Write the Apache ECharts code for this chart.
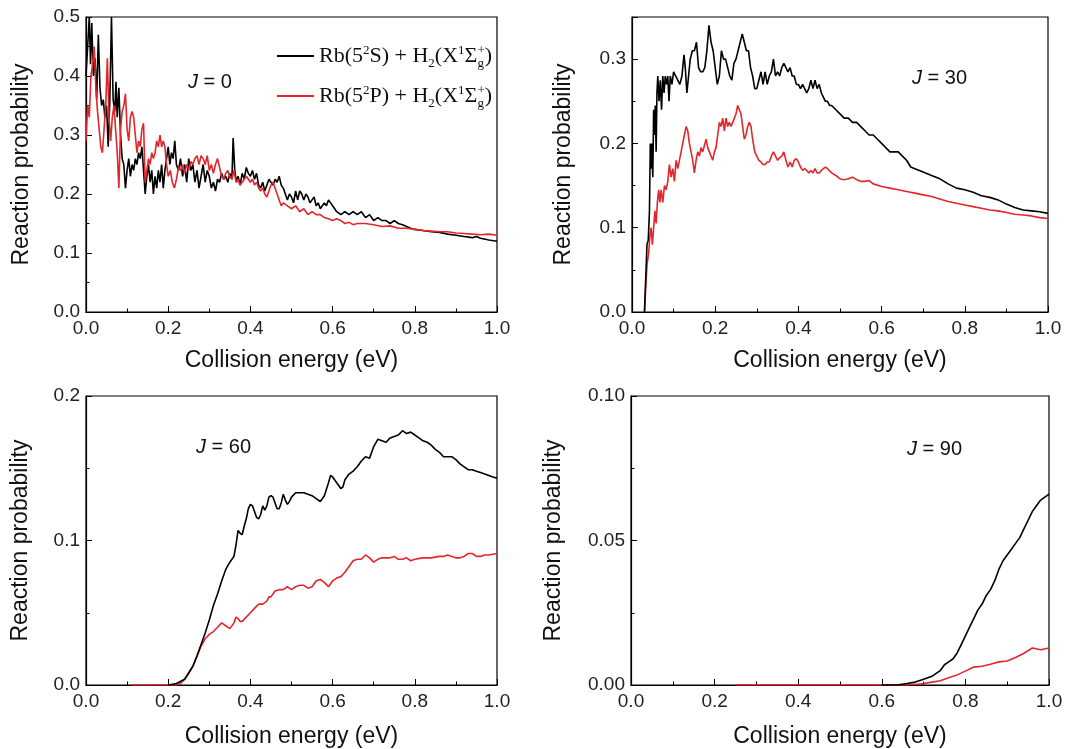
<!DOCTYPE html>
<html>
<head>
<meta charset="utf-8">
<script src="https://cdn.jsdelivr.net/npm/echarts@6/dist/echarts.min.js"></script>
<style>
  html, body { margin: 0; padding: 0; background: #fff; }
  #chart { width: 1072px; height: 749px; }
</style>
</head>
<body>
<div id="chart"></div>
<script>
// Reaction probability vs collision energy, four J panels
const nameS = 'Rb(5S) + H2';
const nameP = 'Rb(5P) + H2';
const xTicks = [0, 0.2, 0.4, 0.6, 0.8, 1.0];

// J = 0
const j0SEnergy = [0.000,0.004,0.008,0.011,0.014,0.018,0.022,0.026,0.030,0.034,0.038,0.042,0.046,0.050,0.054,0.058,0.062,0.066,0.070,0.073,0.076,0.080,0.084,0.088,0.092,0.096,0.100,0.104,0.108,0.112,0.116,0.120,0.124,0.128,0.132,0.136,0.140,0.144,0.148,0.152,0.156,0.160,0.164,0.168,0.172,0.176,0.180,0.184,0.188,0.192,0.196,0.200,0.204,0.208,0.212,0.216,0.220,0.225,0.230,0.235,0.240,0.245,0.250,0.255,0.260,0.265,0.270,0.275,0.280,0.285,0.290,0.295,0.300,0.305,0.310,0.315,0.320,0.325,0.330,0.335,0.340,0.345,0.350,0.355,0.358,0.362,0.366,0.370,0.375,0.380,0.385,0.390,0.395,0.400,0.405,0.410,0.415,0.420,0.425,0.430,0.435,0.440,0.445,0.450,0.455,0.460,0.465,0.470,0.475,0.480,0.485,0.490,0.495,0.500,0.505,0.510,0.515,0.520,0.525,0.530,0.535,0.540,0.545,0.550,0.555,0.560,0.565,0.570,0.575,0.580,0.585,0.590,0.595,0.600,0.610,0.620,0.630,0.640,0.650,0.660,0.670,0.680,0.690,0.700,0.710,0.720,0.730,0.740,0.750,0.760,0.770,0.780,0.790,0.800,0.820,0.840,0.860,0.880,0.900,0.920,0.940,0.950,0.960,0.980,1.000];
const j0SProb = [0.40,0.45,0.50,0.42,0.49,0.40,0.43,0.36,0.47,0.38,0.35,0.36,0.33,0.35,0.28,0.36,0.50,0.36,0.34,0.39,0.33,0.38,0.30,0.26,0.25,0.21,0.24,0.26,0.23,0.25,0.24,0.26,0.25,0.27,0.26,0.28,0.24,0.20,0.23,0.25,0.22,0.24,0.20,0.23,0.21,0.24,0.22,0.25,0.21,0.24,0.26,0.28,0.25,0.27,0.26,0.29,0.25,0.24,0.26,0.23,0.25,0.22,0.26,0.24,0.25,0.22,0.24,0.21,0.23,0.25,0.22,0.24,0.23,0.21,0.22,0.205,0.225,0.22,0.235,0.225,0.23,0.22,0.235,0.225,0.295,0.24,0.22,0.23,0.215,0.235,0.225,0.245,0.235,0.23,0.24,0.225,0.235,0.215,0.21,0.22,0.205,0.215,0.225,0.22,0.215,0.225,0.22,0.23,0.215,0.21,0.20,0.19,0.20,0.195,0.185,0.205,0.19,0.205,0.20,0.19,0.20,0.195,0.185,0.19,0.195,0.18,0.185,0.175,0.18,0.185,0.18,0.19,0.185,0.18,0.17,0.165,0.17,0.165,0.17,0.165,0.17,0.16,0.165,0.155,0.16,0.155,0.155,0.15,0.155,0.15,0.148,0.145,0.142,0.14,0.138,0.136,0.135,0.132,0.13,0.128,0.126,0.128,0.125,0.122,0.12];
const j0PEnergy = [0.000,0.004,0.008,0.012,0.016,0.020,0.024,0.028,0.032,0.036,0.040,0.044,0.048,0.052,0.056,0.060,0.064,0.068,0.072,0.076,0.080,0.084,0.088,0.092,0.096,0.100,0.104,0.108,0.112,0.116,0.120,0.124,0.128,0.132,0.136,0.140,0.144,0.148,0.152,0.156,0.160,0.164,0.168,0.172,0.176,0.180,0.184,0.188,0.192,0.196,0.200,0.205,0.210,0.215,0.220,0.225,0.230,0.235,0.240,0.245,0.250,0.255,0.260,0.265,0.270,0.275,0.280,0.285,0.290,0.295,0.300,0.305,0.310,0.315,0.320,0.325,0.330,0.335,0.340,0.345,0.350,0.355,0.360,0.365,0.370,0.375,0.380,0.390,0.400,0.405,0.410,0.415,0.420,0.425,0.430,0.435,0.440,0.445,0.450,0.455,0.460,0.465,0.470,0.475,0.480,0.490,0.500,0.510,0.520,0.530,0.540,0.550,0.560,0.570,0.580,0.590,0.600,0.610,0.620,0.630,0.640,0.650,0.660,0.680,0.700,0.720,0.740,0.760,0.780,0.800,0.820,0.840,0.860,0.880,0.900,0.920,0.940,0.960,0.980,1.000];
const j0PProb = [0.29,0.35,0.33,0.40,0.42,0.45,0.38,0.34,0.31,0.28,0.27,0.31,0.35,0.43,0.33,0.29,0.33,0.35,0.31,0.27,0.21,0.31,0.34,0.35,0.37,0.31,0.29,0.33,0.34,0.33,0.30,0.27,0.29,0.28,0.31,0.32,0.22,0.24,0.26,0.25,0.27,0.26,0.27,0.29,0.28,0.30,0.28,0.29,0.28,0.25,0.23,0.24,0.22,0.21,0.225,0.245,0.24,0.25,0.235,0.25,0.24,0.255,0.25,0.26,0.265,0.25,0.265,0.26,0.25,0.265,0.24,0.25,0.235,0.25,0.26,0.245,0.23,0.225,0.235,0.24,0.23,0.225,0.24,0.22,0.225,0.215,0.22,0.23,0.22,0.225,0.215,0.22,0.21,0.205,0.21,0.20,0.195,0.205,0.215,0.22,0.21,0.20,0.19,0.18,0.185,0.18,0.175,0.18,0.17,0.175,0.165,0.17,0.165,0.165,0.16,0.158,0.155,0.158,0.155,0.15,0.152,0.148,0.15,0.15,0.148,0.145,0.146,0.142,0.142,0.14,0.138,0.137,0.136,0.136,0.134,0.133,0.132,0.131,0.132,0.13];

// J = 30
const j30SEnergy = [0.030,0.033,0.036,0.039,0.042,0.044,0.046,0.048,0.050,0.052,0.054,0.056,0.058,0.060,0.062,0.065,0.068,0.071,0.074,0.077,0.080,0.083,0.086,0.089,0.092,0.096,0.100,0.105,0.110,0.115,0.120,0.125,0.128,0.132,0.136,0.140,0.145,0.150,0.155,0.160,0.165,0.170,0.175,0.180,0.185,0.190,0.195,0.200,0.205,0.210,0.215,0.220,0.225,0.230,0.235,0.240,0.245,0.250,0.255,0.260,0.265,0.270,0.275,0.280,0.285,0.290,0.295,0.300,0.305,0.310,0.315,0.320,0.325,0.330,0.335,0.340,0.345,0.350,0.355,0.360,0.365,0.370,0.375,0.380,0.385,0.390,0.395,0.400,0.405,0.410,0.415,0.420,0.425,0.430,0.435,0.440,0.445,0.450,0.455,0.460,0.465,0.470,0.475,0.480,0.490,0.500,0.510,0.520,0.530,0.540,0.550,0.560,0.570,0.580,0.590,0.600,0.610,0.620,0.630,0.640,0.650,0.660,0.670,0.680,0.700,0.720,0.740,0.760,0.780,0.800,0.820,0.840,0.860,0.880,0.900,0.920,0.940,0.960,0.980,1.000];
const j30SProb = [0.0,0.04,0.08,0.085,0.12,0.20,0.17,0.20,0.16,0.24,0.21,0.245,0.19,0.26,0.28,0.25,0.275,0.24,0.28,0.26,0.28,0.27,0.28,0.25,0.28,0.27,0.285,0.28,0.275,0.27,0.28,0.305,0.29,0.26,0.28,0.30,0.31,0.31,0.32,0.29,0.285,0.285,0.29,0.31,0.34,0.32,0.31,0.29,0.27,0.28,0.31,0.30,0.30,0.29,0.28,0.275,0.295,0.30,0.31,0.32,0.33,0.32,0.31,0.31,0.29,0.28,0.265,0.265,0.275,0.285,0.27,0.285,0.27,0.28,0.285,0.30,0.28,0.285,0.28,0.29,0.295,0.29,0.285,0.29,0.28,0.28,0.27,0.27,0.265,0.27,0.265,0.26,0.265,0.275,0.265,0.275,0.265,0.27,0.26,0.255,0.25,0.25,0.245,0.245,0.24,0.235,0.23,0.23,0.225,0.225,0.22,0.215,0.21,0.21,0.205,0.20,0.195,0.19,0.19,0.19,0.185,0.18,0.172,0.17,0.166,0.162,0.158,0.152,0.147,0.145,0.142,0.138,0.136,0.133,0.128,0.124,0.121,0.120,0.119,0.117];
const j30PEnergy = [0.030,0.033,0.036,0.040,0.043,0.046,0.049,0.052,0.055,0.058,0.061,0.064,0.067,0.070,0.074,0.078,0.082,0.086,0.090,0.094,0.098,0.102,0.106,0.110,0.114,0.118,0.122,0.126,0.130,0.134,0.138,0.142,0.146,0.150,0.154,0.158,0.162,0.166,0.170,0.174,0.178,0.182,0.186,0.190,0.194,0.198,0.202,0.206,0.210,0.214,0.218,0.222,0.226,0.230,0.234,0.238,0.242,0.246,0.250,0.254,0.258,0.262,0.266,0.270,0.274,0.278,0.282,0.286,0.290,0.295,0.300,0.305,0.310,0.315,0.320,0.325,0.330,0.335,0.340,0.345,0.350,0.355,0.360,0.365,0.370,0.375,0.380,0.385,0.390,0.395,0.400,0.405,0.410,0.415,0.420,0.425,0.430,0.435,0.440,0.445,0.450,0.455,0.460,0.465,0.470,0.480,0.490,0.500,0.510,0.520,0.530,0.540,0.550,0.560,0.570,0.580,0.600,0.620,0.640,0.660,0.680,0.700,0.720,0.740,0.760,0.780,0.800,0.820,0.840,0.860,0.880,0.900,0.920,0.940,0.960,0.980,1.000];
const j30PProb = [0.0,0.03,0.055,0.07,0.09,0.10,0.08,0.10,0.12,0.105,0.13,0.145,0.13,0.145,0.13,0.15,0.145,0.155,0.175,0.16,0.17,0.155,0.18,0.17,0.18,0.19,0.20,0.21,0.22,0.215,0.20,0.19,0.18,0.165,0.18,0.19,0.185,0.195,0.19,0.19,0.205,0.195,0.19,0.185,0.18,0.19,0.195,0.21,0.225,0.22,0.23,0.215,0.23,0.22,0.225,0.22,0.225,0.23,0.235,0.245,0.24,0.235,0.22,0.205,0.21,0.22,0.225,0.22,0.205,0.19,0.185,0.18,0.178,0.175,0.175,0.178,0.178,0.185,0.19,0.185,0.18,0.183,0.185,0.19,0.18,0.172,0.178,0.172,0.18,0.182,0.178,0.172,0.168,0.17,0.168,0.165,0.168,0.165,0.17,0.165,0.165,0.168,0.17,0.172,0.17,0.165,0.162,0.158,0.157,0.158,0.16,0.157,0.155,0.155,0.156,0.152,0.149,0.147,0.145,0.143,0.141,0.139,0.137,0.134,0.131,0.129,0.127,0.125,0.123,0.121,0.12,0.118,0.116,0.115,0.114,0.112,0.111];

// J = 60
const j60SEnergy = [0.20,0.22,0.24,0.26,0.27,0.28,0.29,0.30,0.31,0.32,0.33,0.34,0.35,0.36,0.365,0.37,0.375,0.38,0.385,0.39,0.395,0.40,0.405,0.41,0.415,0.42,0.425,0.43,0.435,0.44,0.445,0.45,0.455,0.46,0.465,0.47,0.475,0.48,0.485,0.49,0.495,0.50,0.51,0.52,0.53,0.54,0.55,0.56,0.57,0.58,0.59,0.595,0.60,0.61,0.62,0.625,0.63,0.64,0.65,0.66,0.67,0.68,0.69,0.70,0.71,0.72,0.73,0.74,0.75,0.76,0.77,0.78,0.79,0.80,0.81,0.82,0.83,0.84,0.85,0.86,0.87,0.88,0.89,0.90,0.91,0.92,0.93,0.94,0.95,0.96,0.97,0.98,0.99,1.00];
const j60SProb = [0.0,0.001,0.004,0.013,0.02,0.028,0.036,0.045,0.055,0.063,0.072,0.08,0.085,0.089,0.097,0.107,0.105,0.104,0.11,0.115,0.122,0.125,0.124,0.12,0.116,0.115,0.118,0.124,0.121,0.124,0.13,0.131,0.13,0.126,0.122,0.122,0.126,0.132,0.128,0.125,0.127,0.13,0.133,0.133,0.133,0.132,0.131,0.129,0.127,0.131,0.14,0.145,0.144,0.14,0.136,0.137,0.142,0.146,0.148,0.151,0.155,0.158,0.157,0.165,0.17,0.169,0.168,0.171,0.172,0.173,0.176,0.174,0.175,0.173,0.171,0.169,0.168,0.166,0.163,0.161,0.158,0.158,0.158,0.156,0.153,0.151,0.149,0.149,0.148,0.147,0.146,0.145,0.144,0.143];
const j60PEnergy = [0.11,0.22,0.23,0.24,0.25,0.26,0.27,0.28,0.29,0.30,0.31,0.32,0.33,0.34,0.35,0.36,0.365,0.37,0.375,0.38,0.39,0.40,0.41,0.42,0.43,0.44,0.445,0.45,0.46,0.47,0.48,0.49,0.50,0.51,0.52,0.53,0.54,0.55,0.56,0.57,0.58,0.59,0.60,0.61,0.62,0.63,0.64,0.65,0.66,0.67,0.68,0.69,0.70,0.71,0.72,0.73,0.74,0.75,0.76,0.77,0.78,0.79,0.80,0.82,0.84,0.86,0.87,0.88,0.89,0.90,0.91,0.92,0.93,0.94,0.95,0.96,0.97,0.98,1.00];
const j60PProb = [0.0,0.0,0.001,0.004,0.008,0.013,0.02,0.027,0.032,0.035,0.037,0.04,0.043,0.041,0.039,0.043,0.047,0.046,0.044,0.044,0.047,0.05,0.053,0.056,0.056,0.058,0.061,0.061,0.065,0.066,0.066,0.068,0.066,0.068,0.069,0.069,0.067,0.068,0.072,0.073,0.071,0.068,0.072,0.074,0.075,0.078,0.082,0.086,0.087,0.087,0.09,0.088,0.085,0.087,0.088,0.088,0.088,0.089,0.087,0.087,0.088,0.086,0.087,0.088,0.088,0.089,0.089,0.090,0.089,0.088,0.088,0.089,0.091,0.091,0.089,0.089,0.09,0.09,0.091];

// J = 90
const j90SEnergy = [0.60,0.64,0.66,0.68,0.70,0.72,0.73,0.74,0.75,0.76,0.77,0.78,0.79,0.80,0.81,0.82,0.83,0.84,0.85,0.86,0.87,0.88,0.89,0.90,0.91,0.92,0.93,0.94,0.95,0.96,0.97,0.98,0.99,1.00];
const j90SProb = [0.0,0.0001,0.0005,0.001,0.002,0.003,0.004,0.005,0.007,0.008,0.009,0.011,0.014,0.017,0.02,0.023,0.026,0.028,0.031,0.033,0.036,0.04,0.043,0.045,0.047,0.049,0.051,0.054,0.057,0.06,0.062,0.064,0.065,0.066];
const j90PEnergy = [0.25,0.66,0.68,0.70,0.72,0.74,0.76,0.78,0.80,0.82,0.84,0.86,0.88,0.90,0.92,0.94,0.96,0.98,1.00];
const j90PProb = [0.0,0.0,0.0002,0.0005,0.001,0.0015,0.0025,0.0035,0.0048,0.0062,0.0065,0.0072,0.008,0.0083,0.0095,0.011,0.0128,0.0122,0.0128];

const panels = [
  { label: '0',  yMax: 0.5,  yStep: 0.1,  digits: 1, yGap: 53, xGap: 37, grid: { left: 86,  top: 17,  width: 411, height: 295 }, jPos: [188, 83],
    s: [j0SEnergy, j0SProb],  p: [j0PEnergy, j0PProb] },
  { label: '30', yMax: 0.35, yStep: 0.1,  digits: 1, yGap: 57, xGap: 37, grid: { left: 632, top: 17,  width: 416, height: 295 }, jPos: [912, 79],
    s: [j30SEnergy, j30SProb], p: [j30PEnergy, j30PProb] },
  { label: '60', yMax: 0.2,  yStep: 0.1,  digits: 1, yGap: 54, xGap: 40, grid: { left: 86,  top: 396, width: 411, height: 295 }, jPos: [196, 448],
    s: [j60SEnergy, j60SProb], p: [j60PEnergy, j60PProb] },
  { label: '90', yMax: 0.1,  yStep: 0.05, digits: 2, yGap: 66, xGap: 40, grid: { left: 631, top: 396, width: 418, height: 295 }, jPos: [907, 450],
    s: [j90SEnergy, j90SProb], p: [j90PEnergy, j90PProb] }
];

const zip = (xs, ys) => xs.map((x, i) => [x, ys[i]]);
const textFont = '"Liberation Sans", Arial, sans-serif';

const chart = echarts.init(document.getElementById('chart'), null, { renderer: 'canvas' });

const grids = [], xAxes = [], yAxes = [], series = [], graphics = [];
panels.forEach((pn, i) => {
  grids.push(Object.assign({ show: true, borderColor: '#000', borderWidth: 1.2, backgroundColor: 'transparent' }, pn.grid));
  xAxes.push({
    type: 'value', gridIndex: i, min: 0, max: 1, interval: 0.2,
    name: 'Collision energy (eV)', nameLocation: 'middle', nameGap: pn.xGap,
    nameTextStyle: { fontFamily: textFont, fontSize: 23, color: '#111' },
    axisLine: { lineStyle: { color: '#000', width: 1.2 } },
    axisTick: { inside: true, length: 6, lineStyle: { color: '#000' } },
    minorTick: { show: true, splitNumber: 2, length: 3.5, lineStyle: { color: '#000' } },
    splitLine: { show: false },
    axisLabel: { fontFamily: textFont, fontSize: 19, color: '#222', margin: 7, formatter: v => v.toFixed(1) }
  });
  yAxes.push({
    type: 'value', gridIndex: i, min: 0, max: pn.yMax, interval: pn.yStep,
    name: 'Reaction probability', nameLocation: 'middle', nameGap: pn.yGap,
    nameTextStyle: { fontFamily: textFont, fontSize: 23, color: '#111' },
    axisLine: { lineStyle: { color: '#000', width: 1.2 } },
    axisTick: { inside: true, length: 6, lineStyle: { color: '#000' } },
    minorTick: { show: true, splitNumber: 2, length: 3.5, lineStyle: { color: '#000' } },
    splitLine: { show: false },
    axisLabel: {
      fontFamily: textFont, fontSize: 19, color: '#222', margin: 6,
      showMaxLabel: i !== 1,
      formatter: v => v.toFixed(pn.digits)
    }
  });
  series.push({
    name: nameS, type: 'line', xAxisIndex: i, yAxisIndex: i, showSymbol: false, symbol: 'none',
    data: zip(pn.s[0], pn.s[1]), lineStyle: { color: '#000', width: 1.6 }, itemStyle: { color: '#000' },
    z: 3, animation: false
  });
  series.push({
    name: nameP, type: 'line', xAxisIndex: i, yAxisIndex: i, showSymbol: false, symbol: 'none',
    data: zip(pn.p[0], pn.p[1]), lineStyle: { color: '#e3262b', width: 1.6 }, itemStyle: { color: '#e3262b' },
    z: i === 0 ? 4 : 2, animation: false
  });
  graphics.push({
    type: 'text', left: pn.jPos[0], top: pn.jPos[1] - 11,
    style: { rich: { j: { fontFamily: textFont, fontSize: 20, fontStyle: 'italic', fill: '#111' },
                     n: { fontFamily: textFont, fontSize: 20, fill: '#111' } },
             text: '{j|J}{n| = ' + pn.label + '}' }
  });
});

const serif = '"Liberation Serif", "Times New Roman", serif';
const legendRich = {
  n:  { fontFamily: serif, fontSize: 22, color: '#111', lineHeight: 30, verticalAlign: 'middle' },
  sp: { fontFamily: serif, fontSize: 13, color: '#111', lineHeight: 30, verticalAlign: 'top', padding: [3, 0, 0, 0] },
  sb: { fontFamily: serif, fontSize: 13, color: '#111', lineHeight: 30, verticalAlign: 'bottom', padding: [0, 0, 1, 0] },
  sg: { fontFamily: serif, fontSize: 13, color: '#111', lineHeight: 30, verticalAlign: 'bottom', padding: [0, 0, 1, 0], width: 0.1 }
};
const legendText = {};
legendText[nameS] = '{n|Rb(5}{sp|2}{n|S) + H}{sb|2}{n|(X}{sp|1}{n|Σ}{sg|g}{sp|+}{n|)}';
legendText[nameP] = '{n|Rb(5}{sp|2}{n|P) + H}{sb|2}{n|(X}{sp|1}{n|Σ}{sg|g}{sp|+}{n|)}';

chart.setOption({
  backgroundColor: '#fff',
  animation: false,
  textStyle: { fontFamily: textFont },
  grid: grids,
  xAxis: xAxes,
  yAxis: yAxes,
  legend: {
    data: [nameS, nameP], orient: 'vertical', left: 272, top: 36,
    icon: 'rect', itemWidth: 37, itemHeight: 2, itemGap: 10,
    selectedMode: false,
    formatter: name => legendText[name],
    textStyle: { rich: legendRich, padding: [0, 0, 0, 0] }
  },
  graphic: graphics,
  series: series
});
</script>
</body>
</html>
